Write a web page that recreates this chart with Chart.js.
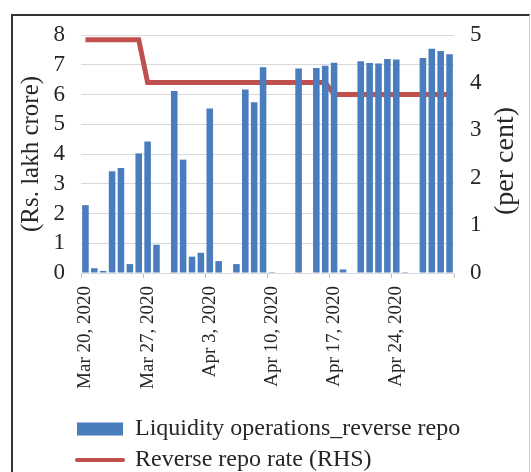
<!DOCTYPE html>
<html>
<head>
<meta charset="utf-8">
<script src="https://cdn.jsdelivr.net/npm/chart.js@4/dist/chart.umd.min.js"></script>
<style>
  html, body { margin: 0; padding: 0; background: #fff; overflow: hidden; }
  #wrap { position: relative; width: 531px; height: 482px; }
  #frame {
    position: absolute; left: 11px; top: 14px; width: 516px; height: 520px;
    border-top: 2px solid #333; border-left: 2px solid #333; border-right: 1px solid #ccc;
    pointer-events: none;
  }
</style>
</head>
<body>
<div id="wrap">
  <canvas id="chart"></canvas>
  <div id="frame"></div>
</div>
<script>
const dates = [
  'Mar 20, 2020', 'Mar 21, 2020', 'Mar 22, 2020', 'Mar 23, 2020', 'Mar 24, 2020', 'Mar 25, 2020', 'Mar 26, 2020',
  'Mar 27, 2020', 'Mar 28, 2020', 'Mar 29, 2020', 'Mar 30, 2020', 'Mar 31, 2020', 'Apr 1, 2020', 'Apr 2, 2020',
  'Apr 3, 2020', 'Apr 4, 2020', 'Apr 5, 2020', 'Apr 6, 2020', 'Apr 7, 2020', 'Apr 8, 2020', 'Apr 9, 2020',
  'Apr 10, 2020', 'Apr 11, 2020', 'Apr 12, 2020', 'Apr 13, 2020', 'Apr 14, 2020', 'Apr 15, 2020', 'Apr 16, 2020',
  'Apr 17, 2020', 'Apr 18, 2020', 'Apr 19, 2020', 'Apr 20, 2020', 'Apr 21, 2020', 'Apr 22, 2020', 'Apr 23, 2020',
  'Apr 24, 2020', 'Apr 25, 2020', 'Apr 26, 2020', 'Apr 27, 2020', 'Apr 28, 2020', 'Apr 29, 2020', 'Apr 30, 2020'
]

// Rs. lakh crore
const reverseRepoOps = [
  2.28, 0.16, 0.07, 3.42, 3.53, 0.30, 4.02,
  4.42, 0.95, 0, 6.12, 3.81, 0.55, 0.68,
  5.53, 0.40, 0, 0.30, 6.17, 5.74, 6.92,
  0.03, 0, 0, 6.87, 0, 6.89, 6.97,
  7.07, 0.12, 0, 7.12, 7.06, 7.04, 7.19,
  7.18, 0.03, 0, 7.23, 7.54, 7.46, 7.35
]

// per cent
const reverseRepoRate = [
  4.9, 4.9, 4.9, 4.9, 4.9, 4.9, 4.9,
  4.0, 4.0, 4.0, 4.0, 4.0, 4.0, 4.0,
  4.0, 4.0, 4.0, 4.0, 4.0, 4.0, 4.0,
  4.0, 4.0, 4.0, 4.0, 4.0, 4.0, 4.0,
  3.75, 3.75, 3.75, 3.75, 3.75, 3.75, 3.75,
  3.75, 3.75, 3.75, 3.75, 3.75, 3.75, 3.75
]

const leftTicks = [0, 8]
const rightTicks = [0, 5]

const serif = '"Liberation Serif", "Times New Roman", serif'
const ink = '#262626'
const gridGrey = '#d9d9d9'

// x ticks only every 7th day
function weekTick(c) {
  return c.index === undefined || c.index % 7 === 0 ? '#bfbfbf' : 'rgba(0,0,0,0)'
}

// legend rows start at the same x, like the original
const legendShift = {
  id: 'legendShift',
  afterLayout(chart) {
    chart.legend.left = 70
  }
}

// RHS title reads bottom to top
const rightTitle = {
  id: 'rightTitle',
  afterDraw(chart) {
    const { ctx, chartArea } = chart
    const y1 = chart.scales.y1
    ctx.save()
    ctx.translate(y1.right - 25, (chartArea.top + chartArea.bottom) / 2 + 7)
    ctx.rotate(-Math.PI / 2)
    ctx.font = '28px ' + serif
    ctx.fillStyle = ink
    ctx.textAlign = 'center'
    ctx.textBaseline = 'middle'
    ctx.fillText('(per cent)', 0, 0)
    ctx.restore()
  }
}

function initChart() {
  const el = document.getElementById('chart')
  /* eslint-disable no-new */
  new Chart(el, {
    data: {
      labels: dates,
      datasets: [
        {
          type: 'bar',
          label: 'Liquidity operations_reverse repo',
          data: reverseRepoOps,
          backgroundColor: '#4a7dbd',
          borderWidth: 0,
          pointStyle: 'rect',
          categoryPercentage: 1,
          barPercentage: 0.74,
          yAxisID: 'y',
          order: 0
        },
        {
          type: 'line',
          label: 'Reverse repo rate (RHS)',
          data: reverseRepoRate,
          borderColor: '#c0504d',
          backgroundColor: '#c0504d',
          borderWidth: 5,
          pointRadius: 0,
          pointStyle: 'line',
          tension: 0,
          yAxisID: 'y1',
          order: 1
        }
      ]
    },
    options: {
      responsive: true,
      maintainAspectRatio: false,
      animation: false,
      layout: { padding: { top: 35, left: 0, right: 0, bottom: 0 } },
      plugins: {
        tooltip: { enabled: false },
        legend: {
          position: 'bottom',
          align: 'start',
          labels: {
            font: { family: serif, size: 24 },
            color: ink,
            usePointStyle: true,
            pointStyleWidth: 46,
            boxWidth: 46,
            boxHeight: 13,
            padding: 7,
            generateLabels(chart) {
              const items = Chart.defaults.plugins.legend.labels.generateLabels(chart)
              items.forEach(it => {
                if (it.pointStyle === 'line') {
                  it.lineCap = 'round'
                  it.lineWidth = 4
                }
              })
              return items
            }
          }
        }
      },
      scales: {
        x: {
          offset: true,
          grid: {
            offset: true,
            drawOnChartArea: false,
            tickLength: 5,
            tickColor: weekTick
          },
          border: { color: gridGrey },
          ticks: {
            autoSkip: false,
            minRotation: 90,
            maxRotation: 90,
            padding: 8,
            color: ink,
            font: { family: serif, size: 19 },
            callback(v, i) {
              return i % 7 === 0 ? dates[i] : ''
            }
          },
          afterFit(scale) {
            scale.height = 137
          }
        },
        y: {
          position: 'left',
          min: leftTicks[0],
          max: leftTicks[1],
          grid: { color: gridGrey, drawTicks: false },
          border: { display: false },
          ticks: {
            stepSize: 1,
            autoSkip: false,
            padding: 16,
            color: ink,
            font: { family: serif, size: 23 }
          },
          title: {
            display: true,
            text: '(Rs. lakh crore)',
            color: ink,
            font: { family: serif, size: 25 },
            padding: { top: 16, bottom: 0 }
          },
          afterFit(scale) {
            scale.width = 81
          }
        },
        y1: {
          position: 'right',
          min: rightTicks[0],
          max: rightTicks[1],
          grid: { drawOnChartArea: false, drawTicks: false },
          border: { display: false },
          ticks: {
            stepSize: 1,
            autoSkip: false,
            padding: 16,
            color: ink,
            font: { family: serif, size: 23 }
          },
          afterFit(scale) {
            scale.width = 77
          }
        }
      }
    },
    plugins: [legendShift, rightTitle]
  })
}

initChart()
</script>
</body>
</html>
